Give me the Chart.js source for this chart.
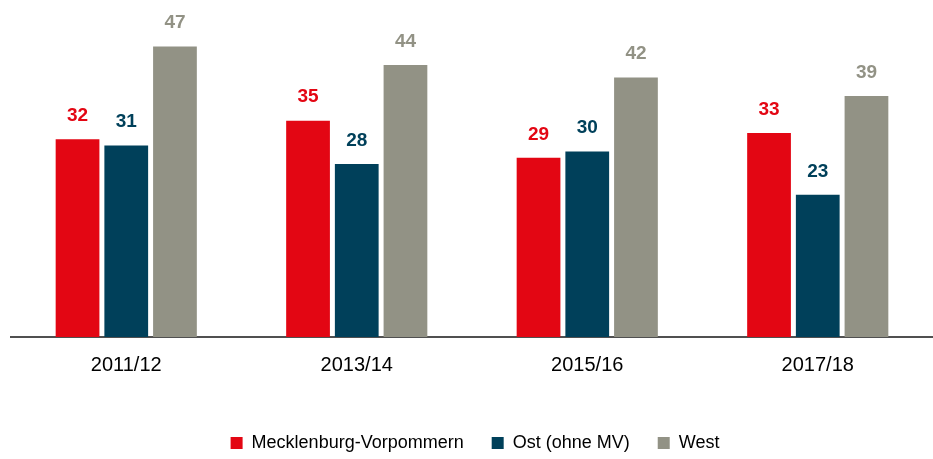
<!DOCTYPE html>
<html>
<head>
<meta charset="utf-8">
<script src="https://cdn.jsdelivr.net/npm/chart.js@4.4.1/dist/chart.umd.min.js"></script>
<style>
  html, body { margin: 0; padding: 0; background: #fff; }
  #wrap { width: 933px; height: 459px; }
</style>
</head>
<body>
<div id="wrap"><canvas id="myBarChart"></canvas></div>
<script>
// data dari gambar
const years = ['2011/12', '2013/14', '2015/16', '2017/18'];
const mvValues = [32, 35, 29, 33];
const ostValues = [31, 28, 30, 23];
const westValues = [47, 44, 42, 39];

const seriesNames = ['Mecklenburg-Vorpommern', 'Ost (ohne MV)', 'West'];
const seriesColors = ['#e30613', '#00405a', '#929285'];

const fontFam = '"Liberation Sans", Arial, sans-serif';

// label angka di atas batang
const valueLabels = {
    id: 'valueLabels',
    afterDatasetsDraw(chart) {
        const ctx = chart.ctx;
        ctx.save();
        ctx.font = 'bold 19px ' + fontFam;
        ctx.textAlign = 'center';
        ctx.textBaseline = 'bottom';
        chart.data.datasets.forEach(function(ds, i) {
            const meta = chart.getDatasetMeta(i);
            ctx.fillStyle = ds.backgroundColor;
            meta.data.forEach(function(bar, j) {
                ctx.fillText(ds.data[j], bar.x, bar.y - 14);
            });
        });
        ctx.restore();
    }
};

const config = {
    type: 'bar',
    data: {
        labels: years,
        datasets: [{
                label: seriesNames[0],
                data: mvValues,
                backgroundColor: seriesColors[0]
            },
            {
                label: seriesNames[1],
                data: ostValues,
                backgroundColor: seriesColors[1]
            },
            {
                label: seriesNames[2],
                data: westValues,
                backgroundColor: seriesColors[2]
            }
        ]
    },
    options: {
        responsive: true,
        maintainAspectRatio: false,
        animation: false,
        categoryPercentage: 0.634,
        barPercentage: 0.898,
        layout: {
            padding: { left: 11, right: -6, top: 28, bottom: -3 }
        },
        plugins: {
            legend: {
                position: 'bottom',
                labels: {
                    boxWidth: 12,
                    boxHeight: 12,
                    padding: 28,
                    color: '#000',
                    font: { family: fontFam, size: 18 }
                }
            },
            tooltip: { enabled: false }
        },
        scales: {
            x: {
                grid: { display: false, drawTicks: false },
                border: { color: '#505050', width: 2 },
                ticks: {
                    color: '#000',
                    padding: 16,
                    font: { family: fontFam, size: 20 }
                },
                afterFit: function(scale) {
                    scale.height = 69;
                }
            },
            y: {
                display: false,
                min: 0,
                max: 50
            }
        }
    },
    plugins: [valueLabels]
};

window.onload = function() {
    const ctx = document.getElementById('myBarChart').getContext('2d');
    new Chart(ctx, config);
};
</script>
</body>
</html>
